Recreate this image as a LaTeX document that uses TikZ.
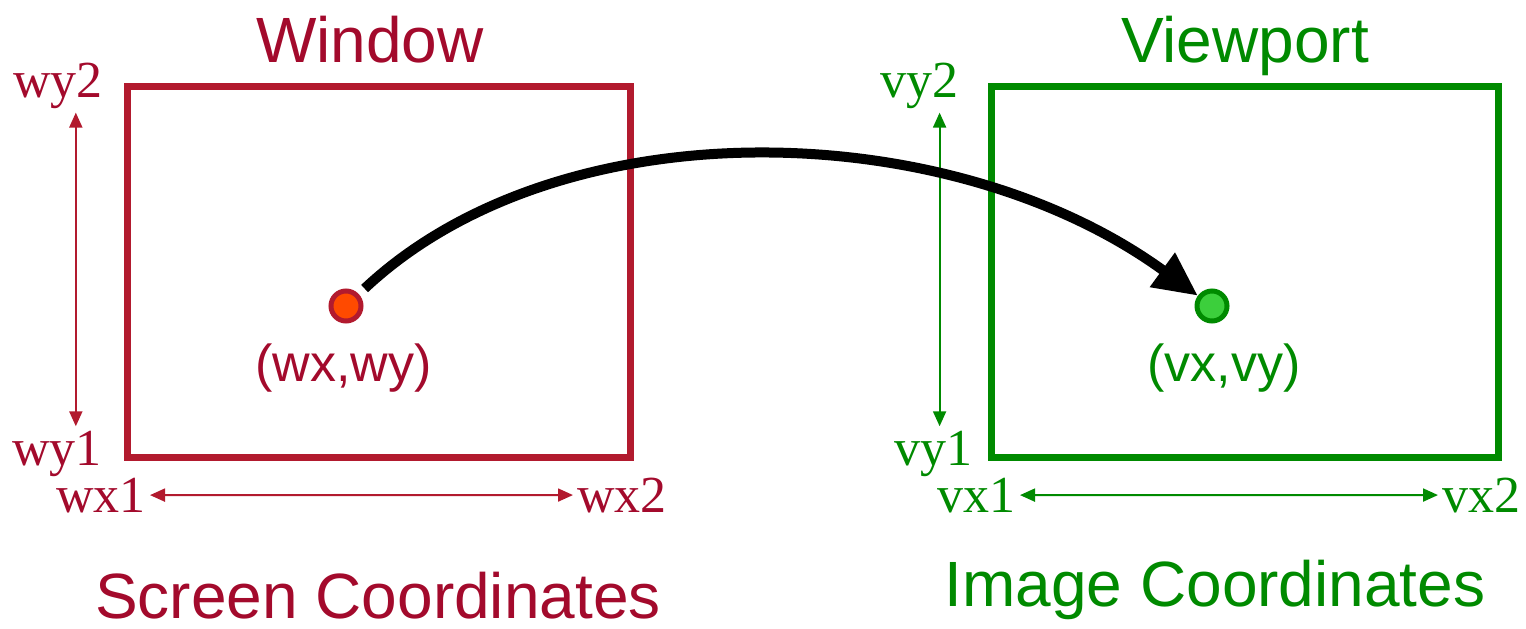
\documentclass[tikz,border=0pt]{standalone}
\usepackage{fontspec}
\setmainfont{Liberation Serif}
\setsansfont{Liberation Sans}
\usetikzlibrary{arrows.meta,positioning}
\definecolor{winred}{HTML}{B21A2E}
\definecolor{wintext}{HTML}{A30A2C}
\definecolor{viewgreen}{HTML}{008A00}
\definecolor{dotorange}{HTML}{FF4A00}
\definecolor{dotgreen}{HTML}{3CCF3C}

\begin{document}
\begin{tikzpicture}[
    x=0.5pt, y=-0.5pt,
    framebox/.style={rectangle, draw=#1, line width=3.5pt, minimum height=185.5pt, inner sep=0pt},
    titletext/.style={font=\sffamily\fontsize{32}{36}\selectfont, text=#1, inner sep=0pt},
    boundlabel/.style={font=\rmfamily\fontsize{26}{30}\selectfont, text=#1, inner sep=2pt},
    coordlabel/.style={font=\sffamily\fontsize{26}{30}\selectfont, text=#1, inner sep=0pt},
    dotmark/.style={circle, draw=#1, line width=2.5pt, minimum size=15pt, inner sep=0pt},
    dimarrow/.style={draw=#1, line width=1pt, {Triangle[length=7.5pt,width=6.5pt]}-{Triangle[length=7.5pt,width=6.5pt]}},
    maparrow/.style={line width=5pt, -{Triangle[length=22pt,width=20pt]}}
]
\useasboundingbox (0,0) rectangle (1526,628);

% Window (screen side)
\node[framebox=winred, minimum width=251.5pt] (win) at (379,272) {};
\node[titletext=wintext, anchor=base] (wintitle) at (370,62) {Window};
\node[boundlabel=wintext, anchor=base east] (wy2) at (107,97) {wy2};
\node[boundlabel=wintext, anchor=base east] (wy1) at (106,465) {wy1};
\node[boundlabel=wintext, anchor=base east] (wx1) at (150,512) {wx1};
\node[boundlabel=wintext, anchor=base west] (wx2) at (573,512) {wx2};
\draw[dimarrow=winred] ([xshift=9pt]wy2.south) -- ([xshift=9pt]wy2.south |- wy1.north);
\draw[dimarrow=winred] (wx1) -- (wx2);
\node[dotmark=winred, fill=dotorange] (wdot) at (346,306) {};
\node[coordlabel=wintext, anchor=base] (wpos) at (343.5,381) {(wx,wy)};
\node[titletext=wintext, anchor=base] (wname) at (378,618) {Screen Coordinates};

% Viewport (image side)
\node[framebox=viewgreen, minimum width=253.5pt] (view) at (1245,272) {};
\node[titletext=viewgreen, anchor=base] (viewtitle) at (1245,62) {Viewport};
\node[boundlabel=viewgreen, anchor=base east] (vy2) at (963,97) {vy2};
\node[boundlabel=viewgreen, anchor=base east] (vy1) at (977,465) {vy1};
\node[boundlabel=viewgreen, anchor=base east] (vx1) at (1020,512) {vx1};
\node[boundlabel=viewgreen, anchor=base west] (vx2) at (1438,512) {vx2};
\draw[dimarrow=viewgreen] ([xshift=10pt]vy2.south) -- ([xshift=10pt]vy2.south |- vy1.north);
\draw[dimarrow=viewgreen] (vx1) -- (vx2);
\node[dotmark=viewgreen, fill=dotgreen] (vdot) at (1212,306) {};
\node[coordlabel=viewgreen, anchor=base] (vpos) at (1224,381) {(vx,vy)};
\node[titletext=viewgreen, anchor=base] (vname) at (1215,606) {Image Coordinates};

% mapping
\draw[maparrow, shorten <=4pt] (wdot) .. controls (560,105) and (950,115) .. (vdot);

\end{tikzpicture}
\end{document}
